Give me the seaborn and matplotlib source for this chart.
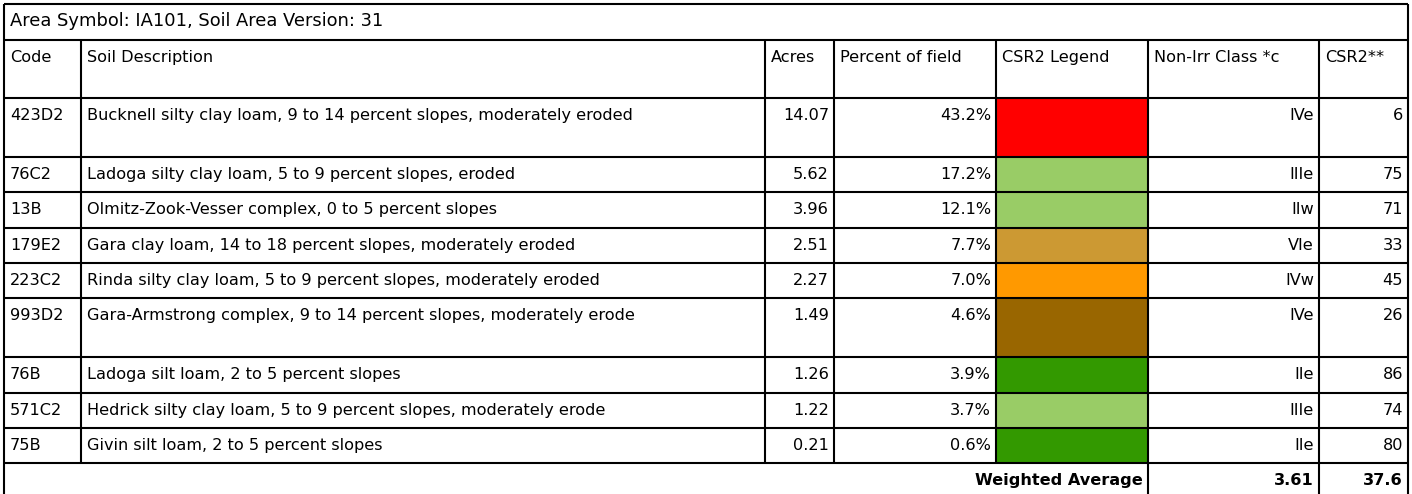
import numpy as np
import matplotlib
matplotlib.use("Agg")
import matplotlib.pyplot as plt
import seaborn as sns

# ---- table data ----
title = "Area Symbol: IA101, Soil Area Version: 31"
headers = ["Code", "Soil Description", "Acres", "Percent of field",
           "CSR2 Legend", "Non-Irr Class *c", "CSR2**"]
codes = ["423D2", "76C2", "13B", "179E2", "223C2", "993D2", "76B", "571C2", "75B"]
descriptions = [
    "Bucknell silty clay loam, 9 to 14 percent slopes, moderately eroded",
    "Ladoga silty clay loam, 5 to 9 percent slopes, eroded",
    "Olmitz-Zook-Vesser complex, 0 to 5 percent slopes",
    "Gara clay loam, 14 to 18 percent slopes, moderately eroded",
    "Rinda silty clay loam, 5 to 9 percent slopes, moderately eroded",
    "Gara-Armstrong complex, 9 to 14 percent slopes, moderately erode",
    "Ladoga silt loam, 2 to 5 percent slopes",
    "Hedrick silty clay loam, 5 to 9 percent slopes, moderately erode",
    "Givin silt loam, 2 to 5 percent slopes",
]
acres = [14.07, 5.62, 3.96, 2.51, 2.27, 1.49, 1.26, 1.22, 0.21]
percent = [43.2, 17.2, 12.1, 7.7, 7.0, 4.6, 3.9, 3.7, 0.6]
legend_colors = ["#FF0000", "#99CC66", "#99CC66", "#CC9933", "#FF9900",
                 "#996600", "#339900", "#99CC66", "#339900"]
non_irr_class = ["IVe", "IIIe", "IIw", "VIe", "IVw", "IVe", "IIe", "IIIe", "IIe"]
csr2 = [6, 75, 71, 33, 45, 26, 86, 74, 80]
weighted_label = "Weighted Average"
weighted_class = 3.61
weighted_csr2 = 37.6

# ---- layout (pixels) ----
W, H = 1412, 494
col_edges = [4, 81, 765, 834, 996, 1148, 1319, 1408]
title_h, header_h, single_h, double_h = 36, 58, 35.3, 59
row_tall = [True, False, False, False, False, True, False, False, False]

sns.set_theme(style="white")
plt.rcParams["font.family"] = ["DejaVu Sans"]
plt.rcParams["text.color"] = "black"

fig = plt.figure(figsize=(W / 100, H / 100), dpi=100)
ax = fig.add_axes([0, 0, 1, 1])
ax.set_xlim(0, W)
ax.set_ylim(H, 0)
ax.axis("off")

fs = 11.65
fs_title = 12.9
lw = 1.5
pad_l, pad_r, base = 6, 5, 22

y_title = 4
y_head = y_title + title_h
y_rows = [y_head + header_h]
for t in row_tall:
    y_rows.append(y_rows[-1] + (double_h if t else single_h))
y_wavg = y_rows[-1]

# colour cells of the CSR2 legend column
tops = np.array(y_rows[:-1])
heights = np.diff(y_rows)
ax.barh(tops, col_edges[5] - col_edges[4], height=heights, left=col_edges[4],
        align="edge", color=legend_colors, edgecolor="none", zorder=1)

# grid lines
ax.hlines([y_title, y_head] + y_rows, col_edges[0], col_edges[-1],
          color="black", lw=lw, zorder=3)
ax.vlines([col_edges[0], col_edges[-1]], y_title, H, color="black", lw=lw, zorder=3)
ax.vlines(col_edges[1:5], y_head, y_wavg, color="black", lw=lw, zorder=3)
ax.vlines(col_edges[5:7], y_head, H, color="black", lw=lw, zorder=3)

# title
ax.text(col_edges[0] + pad_l, y_title + base, title, fontsize=fs_title,
        va="baseline", ha="left")

# headers
for i, h in enumerate(headers):
    ax.text(col_edges[i] + pad_l, y_head + base, h, fontsize=fs, va="baseline", ha="left")

# body
for r in range(len(codes)):
    yb = y_rows[r] + base
    ax.text(col_edges[0] + pad_l, yb, codes[r], fontsize=fs, va="baseline")
    ax.text(col_edges[1] + pad_l, yb, descriptions[r], fontsize=fs, va="baseline")
    ax.text(col_edges[3] - pad_r, yb, f"{acres[r]:.2f}", fontsize=fs, va="baseline", ha="right")
    ax.text(col_edges[4] - pad_r, yb, f"{percent[r]:.1f}%", fontsize=fs, va="baseline", ha="right")
    ax.text(col_edges[6] - pad_r, yb, non_irr_class[r], fontsize=fs, va="baseline", ha="right")
    ax.text(col_edges[7] - pad_r, yb, str(csr2[r]), fontsize=fs, va="baseline", ha="right")

# weighted average row
yb = y_wavg + base
ax.text(col_edges[5] - pad_r, yb, weighted_label, fontsize=fs, fontweight="bold",
        va="baseline", ha="right")
ax.text(col_edges[6] - pad_r, yb, f"{weighted_class:.2f}", fontsize=fs, fontweight="bold",
        va="baseline", ha="right")
ax.text(col_edges[7] - pad_r, yb, f"{weighted_csr2:.1f}", fontsize=fs, fontweight="bold",
        va="baseline", ha="right")

fig.savefig("out.png", dpi=100, facecolor="white")
